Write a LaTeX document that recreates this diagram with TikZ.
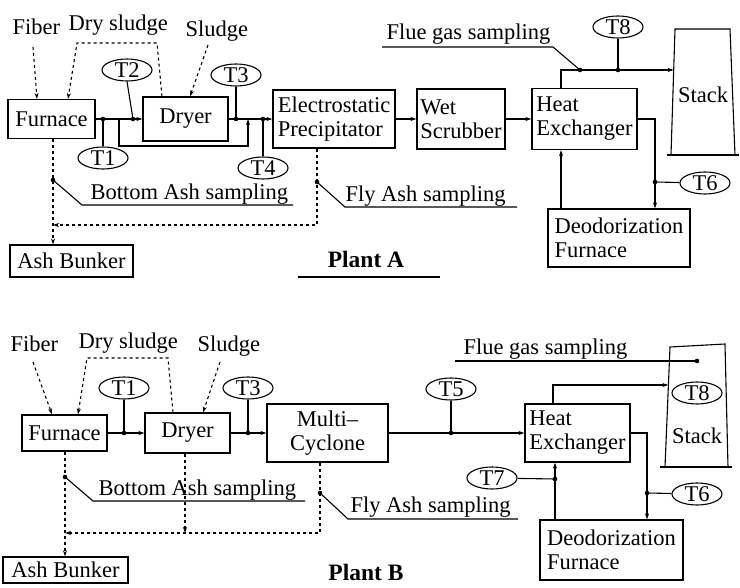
\documentclass[tikz,border=0pt]{standalone}
\usepackage{fontspec}
\setmainfont{Liberation Serif}
\usetikzlibrary{shapes.geometric,arrows.meta}

\begin{document}
\begin{tikzpicture}[x=1pt,y=-1pt,line width=1.1pt,
  font=\fontsize{22.5}{24}\selectfont,
  unit/.style={draw,inner sep=1pt,align=left},
  tag/.style={draw,ellipse,inner sep=0pt,minimum width=50pt,minimum height=22pt},
  lbl/.style={inner sep=0pt,anchor=base west},
  plant/.style={inner sep=0pt,anchor=base,font=\fontsize{23.5}{26}\selectfont\bfseries},
  flow/.style={-{Stealth[length=6pt,width=4pt]}},
  ashflow/.style={flow,dash pattern=on 3pt off 3pt}]
\useasboundingbox (0,0) rectangle (740,588);

% ---------------- Plant A ----------------
\node[unit,minimum width=87pt,minimum height=39pt] (furnA) at (51.5,119) {Furnace};
\node[unit,minimum width=85pt,minimum height=44pt] (dryerA) at (185.5,119) {Dryer};
\node[unit,minimum width=122pt,minimum height=58pt] (espA) at (334,119) {Electrostatic\\Precipitator};
\node[unit,minimum width=88pt,minimum height=60pt] (wetA) at (461,119) {Wet\\Scrubber};
\node[unit,minimum width=105pt,minimum height=61pt] (heA) at (584.5,119) {Heat\\Exchanger};
\node[unit,minimum width=142pt,minimum height=58pt] (deoA) at (619,238) {Deodorization\\Furnace};
\node[unit,minimum width=123pt,minimum height=32pt] (bunkA) at (71.5,261) {Ash Bunker};

\node[tag] (T1A) at (103,158) {T1};
\node[tag] (T2A) at (127,70) {T2};
\node[tag] (T3A) at (236,75) {T3};
\node[tag] (T4A) at (263,168) {T4};
\node[tag] (T8A) at (618,27) {T8};
\node[tag] (T6A) at (705,183) {T6};

\node[lbl] (fibA) at (12,35) {Fiber};
\node[lbl] (drysA) at (68,31) {Dry sludge};
\node[lbl] (sludA) at (185,37) {Sludge};
\node[lbl] (fgtA) at (386,39.5) {Flue gas sampling};
\node[lbl] (batA) at (90,200) {Bottom Ash sampling};
\node[lbl] (fatA) at (345,202) {Fly Ash sampling};
\node[plant] (plA) at (366,268) {Plant A};
\draw (298,277) -- (440,277);

% stack
\draw (671,155) -- (675,29) -- (730,29) -- (735,155);
\draw (667,155) -- (739,155);
\node[inner sep=0pt] (stkA) at (703,95) {Stack};

\coordinate (t1A) at (103,119);
\coordinate (t2A) at (133,119);
\coordinate (t3A) at (236,119);
\coordinate (t4A) at (263,119);
\coordinate (byinA) at (119,119);
\coordinate (byoutA) at (248,119);
\coordinate (hetopA) at (561,70);
\coordinate (fgA) at (580,70);
\coordinate (t8A) at (618,70);
\coordinate (stkinA) at (673.7,70);
\coordinate (fgendA) at (382,47);
\coordinate (t6A) at (655,182);
\coordinate (ashA) at (53,225);
\coordinate (flyA) at (317,225);
\coordinate (bdA) at (53,180);
\coordinate (fdA) at (317,182);

% feeds
\draw[ashflow] (33,47) -- (furnA.north -| 37,0);
\draw[ashflow] (dryerA.north -| 162,0) -- (157,43) -- (77,43) -- (furnA.north -| 68,0);
\draw[ashflow] (208,45) -- (dryerA.north -| 190,0);

% gas line
\draw[flow] (furnA) -- (dryerA);
\draw[flow] (dryerA) -- (espA);
\draw[flow] (espA) -- (wetA);
\draw[flow] (wetA) -- (heA);
\draw[flow] (byinA) -- (119,146) -| (byoutA);
\draw (T1A) -- (t1A);
\draw (T2A.south) -- (t2A);
\draw (T3A) -- (t3A);
\draw (T4A) -- (t4A);
\draw[flow] (hetopA |- heA.north) -- (hetopA) -- (stkinA);
\draw (T8A) -- (t8A);
\draw (fgA) -- (553,47) -- (fgendA);
\draw[flow] (heA.east) -| (t6A) -- (t6A |- deoA.north);
\draw (t6A) -- (T6A);
\draw[flow] (hetopA |- deoA.north) -- (hetopA |- heA.south);

% ash
\draw[ashflow] (ashA |- furnA.south) -- (ashA |- bunkA.north);
\draw[ashflow] (flyA |- espA.south) -- (flyA) -- (ashA);
\draw (bdA) -- (82,205) -- (293,205);
\draw (fdA) -- (345,207) -- (517,207);

\foreach \p in {t1A,t2A,t3A,t4A,fgA,t8A,t6A,bdA,fdA}
  \fill (\p) circle (2.3pt);

% ---------------- Plant B ----------------
\node[unit,minimum width=85pt,minimum height=36pt] (furnB) at (64.5,433) {Furnace};
\node[unit,minimum width=85pt,minimum height=40pt] (dryerB) at (187.5,433) {Dryer};
\node[unit,align=center,minimum width=121pt,minimum height=58pt] (mcB) at (327.5,433) {Multi--\\Cyclone};
\node[unit,minimum width=105pt,minimum height=58pt] (heB) at (577.5,433) {Heat\\Exchanger};
\node[unit,minimum width=143pt,minimum height=60pt] (deoB) at (611.5,550) {Deodorization\\Furnace};
\node[unit,minimum width=125pt,minimum height=26pt] (bunkB) at (65.5,570) {Ash Bunker};

\node[tag] (T1B) at (124,388) {T1};
\node[tag] (T3B) at (248,388) {T3};
\node[tag] (T5B) at (451,389) {T5};
\node[tag] (T8B) at (697,393) {T8};
\node[tag] (T6B) at (697,494) {T6};
\node[tag] (T7B) at (492,478) {T7};

\node[lbl] (fibB) at (10,352) {Fiber};
\node[lbl] (drysB) at (78,349) {Dry sludge};
\node[lbl] (sludB) at (197,352) {Sludge};
\node[lbl] (fgtB) at (463,355) {Flue gas sampling};
\node[lbl] (batB) at (98,496) {Bottom Ash sampling};
\node[lbl] (fatB) at (350,512) {Fly Ash sampling};
\node[plant] (plB) at (366,580) {Plant B};

% stack
\draw (665,467) -- (670,347) -- (725,344) -- (728,467);
\draw (660,467) -- (732,467);
\node[inner sep=0pt] (stkB) at (697,436) {Stack};

\coordinate (t1B) at (124,433);
\coordinate (t3B) at (248,433);
\coordinate (t5B) at (451,433);
\coordinate (hetopB) at (553,385);
\coordinate (stkinB) at (668.4,385);
\coordinate (fgB) at (697,361);
\coordinate (fgendB) at (455,361);
\coordinate (t6B) at (647,493);
\coordinate (t7B) at (555,479);
\coordinate (ashB) at (65,533);
\coordinate (dashB) at (185,533);
\coordinate (flyB) at (320,533);
\coordinate (bdB) at (65,477);
\coordinate (fdB) at (320,493);

% feeds
\draw[ashflow] (33,362) -- (furnB.north -| 52,0);
\draw[ashflow] (dryerB.north -| 173,0) -- (168,358) -- (87,358) -- (furnB.north -| 78,0);
\draw[ashflow] (220,362) -- (dryerB.north -| 203,0);

% gas line
\draw[flow] (furnB) -- (dryerB);
\draw[flow] (dryerB) -- (mcB);
\draw[flow] (mcB) -- (heB);
\draw (T1B) -- (t1B);
\draw (T3B) -- (t3B);
\draw (T5B) -- (t5B);
\draw[flow] (hetopB |- heB.north) -- (hetopB) -- (stkinB);
\draw (fgendB) -- (fgB);
\draw[flow] (heB.east) -| (t6B) -- (t6B |- deoB.north);
\draw (t6B) -- (T6B);
\draw[flow] (t7B |- deoB.north) -- (t7B |- heB.south);
\draw (T7B) -- (t7B);

% ash
\draw[ashflow] (ashB |- furnB.south) -- (ashB |- bunkB.north);
\draw[ashflow] (dashB |- dryerB.south) -- (dashB);
\draw[ashflow] (flyB |- mcB.south) -- (flyB) -- (ashB);
\draw (bdB) -- (93,501) -- (305,501);
\draw (fdB) -- (348,519) -- (518,519);

\foreach \p in {t1B,t3B,t5B,fgB,t6B,t7B,bdB,fdB}
  \fill (\p) circle (2.3pt);

\end{tikzpicture}
\end{document}
